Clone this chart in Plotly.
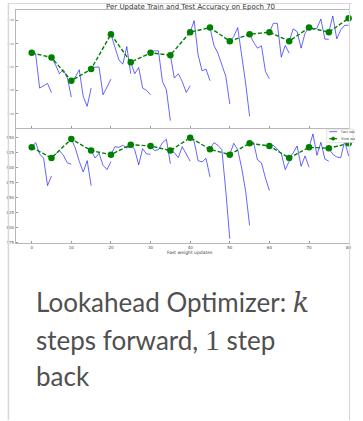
import plotly.graph_objects as go

# ---------------- data ----------------
sync_period = 5
slow_steps = list(range(0, 81, 5))

top_fast = [
    [0.9321, 0.9310, 0.9019, 0.9039, 0.9059, 0.8979],
    [0.9281, 0.9219, 0.9142, 0.9176, 0.9105, 0.8942],
    [0.9082, 0.9113, 0.9176, 0.8948, 0.8863, 0.9019],
    [0.9182, 0.9199, 0.9199, 0.8962, 0.9028, 0.9096],
    [0.9480, 0.9361, 0.9261, 0.9224, 0.9375, 0.9142],
    [0.9241, 0.9142, 0.9196, 0.9019, 0.8999, 0.8962],
    [0.9321, 0.9338, 0.9338, 0.9076, 0.9005, 0.8740],
    [0.9301, 0.9105, 0.9142, 0.9076, 0.8982, 0.9039],
    [0.9498, 0.9597, 0.9304, 0.9167, 0.9182, 0.9082],
    [0.9537, 0.9384, 0.9318, 0.9219, 0.9119, 0.8883],
    [0.9421, 0.9461, 0.9537, 0.9304, 0.9062, 0.8777],
    [0.9480, 0.9412, 0.9361, 0.9381, 0.9162, 0.9099],
    [0.9498, 0.9574, 0.9574, 0.9284, 0.9384, 0.9318],
    [0.9421, 0.9526, 0.9503, 0.9361, 0.9489, 0.9537],
    [0.9537, 0.9523, 0.9532, 0.9611, 0.9438, 0.9438],
    [0.9498, 0.9637, 0.9441, 0.9517, 0.9557, 0.9557],
]
top_slow = [0.9321, 0.9281, 0.9082, 0.9182, 0.9480, 0.9241, 0.9321, 0.9301, 0.9498,
            0.9537, 0.9421, 0.9480, 0.9498, 0.9421, 0.9537, 0.9498, 0.9617]

bottom_fast = [
    [0.9333, 0.9411, 0.9222, 0.9150, 0.8694, 0.8856],
    [0.9156, 0.9211, 0.9278, 0.9200, 0.9072, 0.9050],
    [0.9472, 0.9322, 0.9100, 0.8922, 0.9111, 0.8694],
    [0.9278, 0.9156, 0.9233, 0.9033, 0.8961, 0.9094],
    [0.9211, 0.9344, 0.9333, 0.9367, 0.9322, 0.9350],
    [0.9378, 0.9294, 0.9039, 0.9311, 0.9222, 0.9217],
    [0.9356, 0.9278, 0.9294, 0.9411, 0.9467, 0.9061],
    [0.9278, 0.9244, 0.9161, 0.9344, 0.9222, 0.9100],
    [0.9494, 0.9433, 0.9111, 0.9089, 0.9150, 0.8839],
    [0.9300, 0.9411, 0.9367, 0.9294, 0.8600, 0.7806],
    [0.9211, 0.9400, 0.9294, 0.8989, 0.8600, 0.8028],
    [0.9400, 0.9417, 0.9122, 0.9072, 0.8822, 0.8611],
    [0.9356, 0.9367, 0.9306, 0.9228, 0.8961, 0.9100],
    [0.9156, 0.9239, 0.9356, 0.9017, 0.9189, 0.9000],
    [0.9333, 0.9556, 0.9200, 0.9417, 0.9139, 0.9100],
    [0.9317, 0.9217, 0.9172, 0.9161, 0.9433, 0.9189],
]
bottom_slow = [0.9333, 0.9156, 0.9472, 0.9278, 0.9211, 0.9378, 0.9356, 0.9278, 0.9494,
               0.9300, 0.9211, 0.9400, 0.9356, 0.9156, 0.9333, 0.9317, 0.9400]

x_ticks = [0, 10, 20, 30, 40, 50, 60, 70, 80]
x_ticklabels = ["0", "10", "20", "30", "40", "50", "60", "70", "80"]
top_y_ticks = [0.88, 0.90, 0.92, 0.94, 0.96]
top_y_ticklabels = ["0.88", "0.90", "0.92", "0.94", "0.96"]
bottom_y_ticks = [0.775, 0.800, 0.825, 0.850, 0.875, 0.900, 0.925, 0.950]
bottom_y_ticklabels = ["775", "800", "825", "850", "875", "900", "925", "950"]

title_text = "Per Update Train and Test Accuracy on Epoch 70"
xlabel_text = "Fast weight updates"
legend_names = ["Fast weights", "Slow weights"]

# ---------------- layout helpers ----------------
W, H = 355, 421


def px(x):
    return x / W


def py(y):
    return 1 - y / H


def segments(fast):
    xs, ys = [], []
    for i, seg in enumerate(fast):
        for j, v in enumerate(seg):
            xs.append(i * sync_period + j)
            ys.append(v)
        xs.append(None)
        ys.append(None)
    return xs, ys


BLUE = "rgba(0,0,255,0.6)"
GREEN = "#008000"

fig = go.Figure()
for fast, slow, xa, ya in [(top_fast, top_slow, "x", "y"), (bottom_fast, bottom_slow, "x2", "y2")]:
    fx, fy = segments(fast)
    fig.add_trace(go.Scatter(x=fx, y=fy, mode="lines", line=dict(color=BLUE, width=1),
                             xaxis=xa, yaxis=ya, showlegend=False, connectgaps=False))
    fig.add_trace(go.Scatter(x=slow_steps, y=slow, mode="lines+markers",
                             line=dict(color=GREEN, width=1.4, dash="4px,2px"),
                             marker=dict(color=GREEN, size=6.5),
                             xaxis=xa, yaxis=ya, showlegend=False, cliponaxis=False))

axis_common = dict(showgrid=False, zeroline=False, showline=True, mirror=True,
                   linecolor="#b8b8b8", linewidth=1, ticks="inside", ticklen=2,
                   tickcolor="#999999", tickwidth=0.6)

fig.update_layout(
    width=W, height=H,
    margin=dict(l=0, r=0, t=0, b=0),
    paper_bgcolor="white", plot_bgcolor="white",
    showlegend=False,
    font=dict(family="DejaVu Sans", color="#333333"),
    xaxis=dict(domain=[px(16), px(352)], range=[-4, 80.1], anchor="y",
               tickvals=x_ticks, showticklabels=False, **axis_common),
    yaxis=dict(domain=[py(128), py(10)], range=[0.868, 0.9688], anchor="x",
               tickvals=top_y_ticks, ticktext=top_y_ticklabels,
               tickfont=dict(size=3, color="#888888"), **axis_common),
    xaxis2=dict(domain=[px(16), px(352)], range=[-4, 80.1], anchor="y2",
                tickvals=x_ticks, ticktext=x_ticklabels,
                tickfont=dict(size=4, color="#444444"), **axis_common),
    yaxis2=dict(domain=[py(244), py(129.5)], range=[0.7728, 0.9636], anchor="x2",
                tickvals=bottom_y_ticks, ticktext=bottom_y_ticklabels,
                tickfont=dict(size=4, color="#555555"), **axis_common),
)

ann = []
ann.append(dict(x=px(192), y=py(7), xref="paper", yref="paper", text=title_text,
                showarrow=False, font=dict(size=7, color="#333333", family="DejaVu Sans"),
                xanchor="center", yanchor="middle"))
ann.append(dict(x=px(192), y=py(253), xref="paper", yref="paper", text=xlabel_text,
                showarrow=False, font=dict(size=4.5, color="#444444", family="DejaVu Sans"),
                xanchor="center", yanchor="middle"))
# manual tiny legend text (clipped at the card edge, as in the reference)
for i, name in enumerate(legend_names):
    ann.append(dict(x=px(342), y=py(132 + 7 * i), xref="paper", yref="paper", text=name,
                    showarrow=False, font=dict(size=3.5, color="#555555", family="DejaVu Sans"),
                    xanchor="left", yanchor="middle"))

# caption
cap_font = dict(family="Lato", size=26, color="#505050")
caption_lines = [
    "Lookahead Optimizer: <span style=\"font-family:'DejaVu Serif';font-size:27px\"><i>k</i></span>",
    "steps forward, <span style=\"font-family:'Liberation Serif';font-size:30px\">1</span> step",
    "back",
]
for i, line in enumerate(caption_lines):
    ann.append(dict(x=px(34), y=py(303 + 37 * i), xref="paper", yref="paper", text=line,
                    showarrow=False, font=cap_font, xanchor="left", yanchor="middle"))
fig.update_layout(annotations=ann)

shapes = []
border = "#d8d8d8"
shapes.append(dict(type="line", xref="paper", yref="paper", x0=px(8.5), x1=px(8.5),
                   y0=py(3), y1=py(421), line=dict(color=border, width=1.5)))
shapes.append(dict(type="line", xref="paper", yref="paper", x0=px(8), x1=px(355),
                   y0=py(3.5), y1=py(3.5), line=dict(color=border, width=1.2)))
shapes.append(dict(type="line", xref="paper", yref="paper", x0=px(352.5), x1=px(352.5),
                   y0=py(3), y1=py(421), line=dict(color=border, width=1.2)))
# legend box and keys
shapes.append(dict(type="rect", xref="paper", yref="paper", x0=px(329.5), x1=px(356),
                   y0=py(143), y1=py(129.5), line=dict(color="#cccccc", width=0.6),
                   fillcolor="white"))
shapes.append(dict(type="line", xref="paper", yref="paper", x0=px(332), x1=px(340),
                   y0=py(132), y1=py(132), line=dict(color=BLUE, width=1)))
shapes.append(dict(type="line", xref="paper", yref="paper", x0=px(332), x1=px(340),
                   y0=py(139), y1=py(139), line=dict(color=GREEN, width=1.2, dash="dash")))
shapes.append(dict(type="circle", xref="paper", yref="paper", x0=px(334.3), x1=px(337.7),
                   y0=py(140.7), y1=py(137.3), line=dict(color=GREEN, width=0.5),
                   fillcolor=GREEN))
fig.update_layout(shapes=shapes)

fig.write_html("out.html", config={"displayModeBar": False},
               post_script="document.body.style.margin='0';")
